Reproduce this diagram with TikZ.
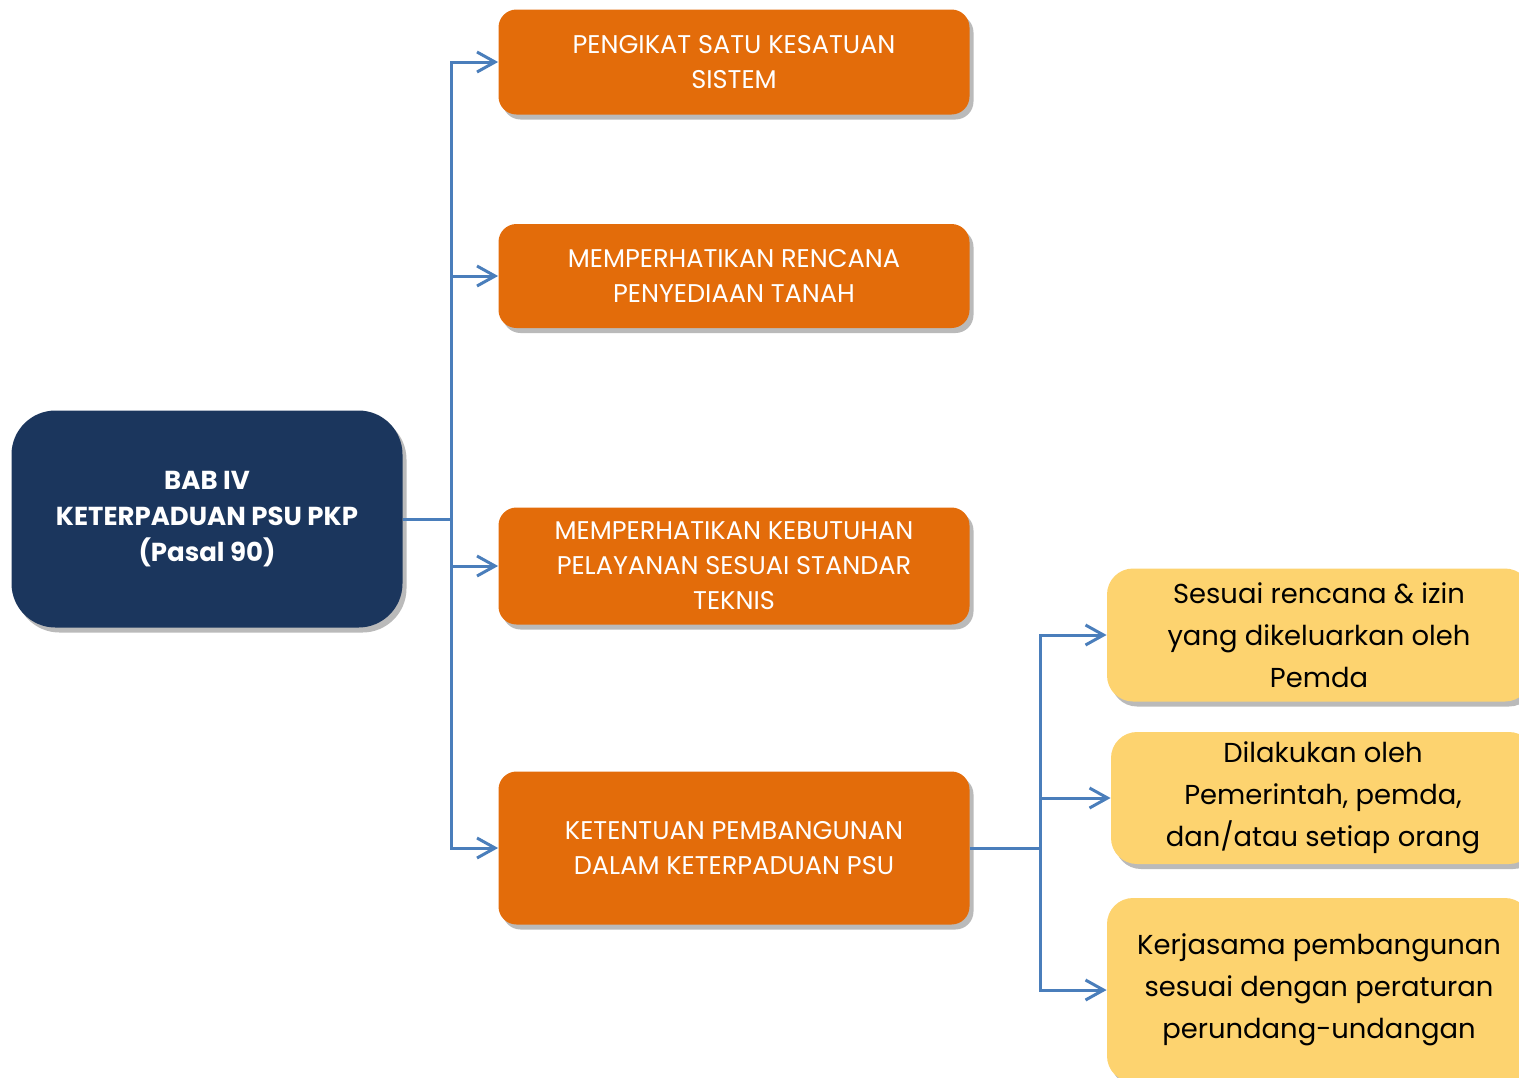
\documentclass[tikz,border=0pt]{standalone}
\usepackage{fontspec}
\setmainfont{Poppins}
\usetikzlibrary{arrows.meta,shadows}

\definecolor{babblue}{HTML}{1B365D}
\definecolor{psuorange}{HTML}{E36C0A}
\definecolor{ketyellow}{HTML}{FDD36F}
\definecolor{linkblue}{HTML}{4A7EBB}

\tikzset{
  boxshadow/.style={drop shadow={shadow xshift=2pt,shadow yshift=-2.5pt,fill=black!45,opacity=.6}},
  babbox/.style={fill=babblue,text=white,rounded corners=22pt,inner sep=0pt,align=center,
    minimum width=195.5pt,minimum height=108.5pt,font=\bfseries\fontsize{13}{18}\selectfont,boxshadow},
  psubox/.style={fill=psuorange,text=white,rounded corners=9pt,inner sep=0pt,align=center,
    minimum width=235.5pt,font=\fontsize{12.8}{17.5}\selectfont,boxshadow},
  ketbox/.style={fill=ketyellow,text=black,rounded corners=13pt,inner sep=0pt,align=center,
    minimum width=212pt,font=\fontsize{13.7}{21}\selectfont,boxshadow},
  link/.style={draw=linkblue,line width=1.5pt,-{Straight Barb[length=9pt,width=10pt,line width=1.5pt]}},
}

\begin{document}
\begin{tikzpicture}[x=0.5pt,y=-0.5pt]
    \useasboundingbox (0,0) rectangle (1519,1077);
    \clip (0,0) rectangle (1519,1077);

    \node [babbox] (BAB) at (207,519) {BAB IV\\KETERPADUAN PSU PKP\\(Pasal 90)};

    \node [psubox,minimum height=52.5pt] (SATU) at (734,62) {PENGIKAT SATU KESATUAN\\SISTEM};
    \node [psubox,minimum height=52pt] (TANAH) at (734,276) {MEMPERHATIKAN RENCANA\\PENYEDIAAN TANAH};
    \node [psubox,minimum height=58.5pt] (STANDAR) at (734,566) {MEMPERHATIKAN KEBUTUHAN\\PELAYANAN SESUAI STANDAR\\TEKNIS};
    \node [psubox,minimum height=76.5pt] (BANGUN) at (734,848) {KETENTUAN PEMBANGUNAN\\DALAM KETERPADUAN PSU};

    \node [ketbox,minimum height=66.5pt] (IZIN) at (1319,635) {Sesuai rencana \& izin\\yang dikeluarkan oleh\\Pemda};
    \node [ketbox,minimum height=66pt] (PELAKU) at (1323,798) {Dilakukan oleh\\Pemerintah, pemda,\\dan/atau setiap orang};
    \node [ketbox,minimum height=92pt] (KERJA) at (1319,990) {Kerjasama pembangunan\\sesuai dengan peraturan\\perundang-undangan};

    \coordinate (T1) at (451,519);
    \coordinate (T2) at (1040,848);

    \draw [link] (BAB.east) -- (T1) |- (SATU.west);
    \draw [link] (T1) |- (TANAH.west);
    \draw [link] (T1) |- (STANDAR.west);
    \draw [link] (T1) |- (BANGUN.west);

    \draw [link] (BANGUN.east) -- (T2) |- (IZIN.west);
    \draw [link] (T2) |- (PELAKU.west);
    \draw [link] (T2) |- (KERJA.west);
\end{tikzpicture}
\end{document}
